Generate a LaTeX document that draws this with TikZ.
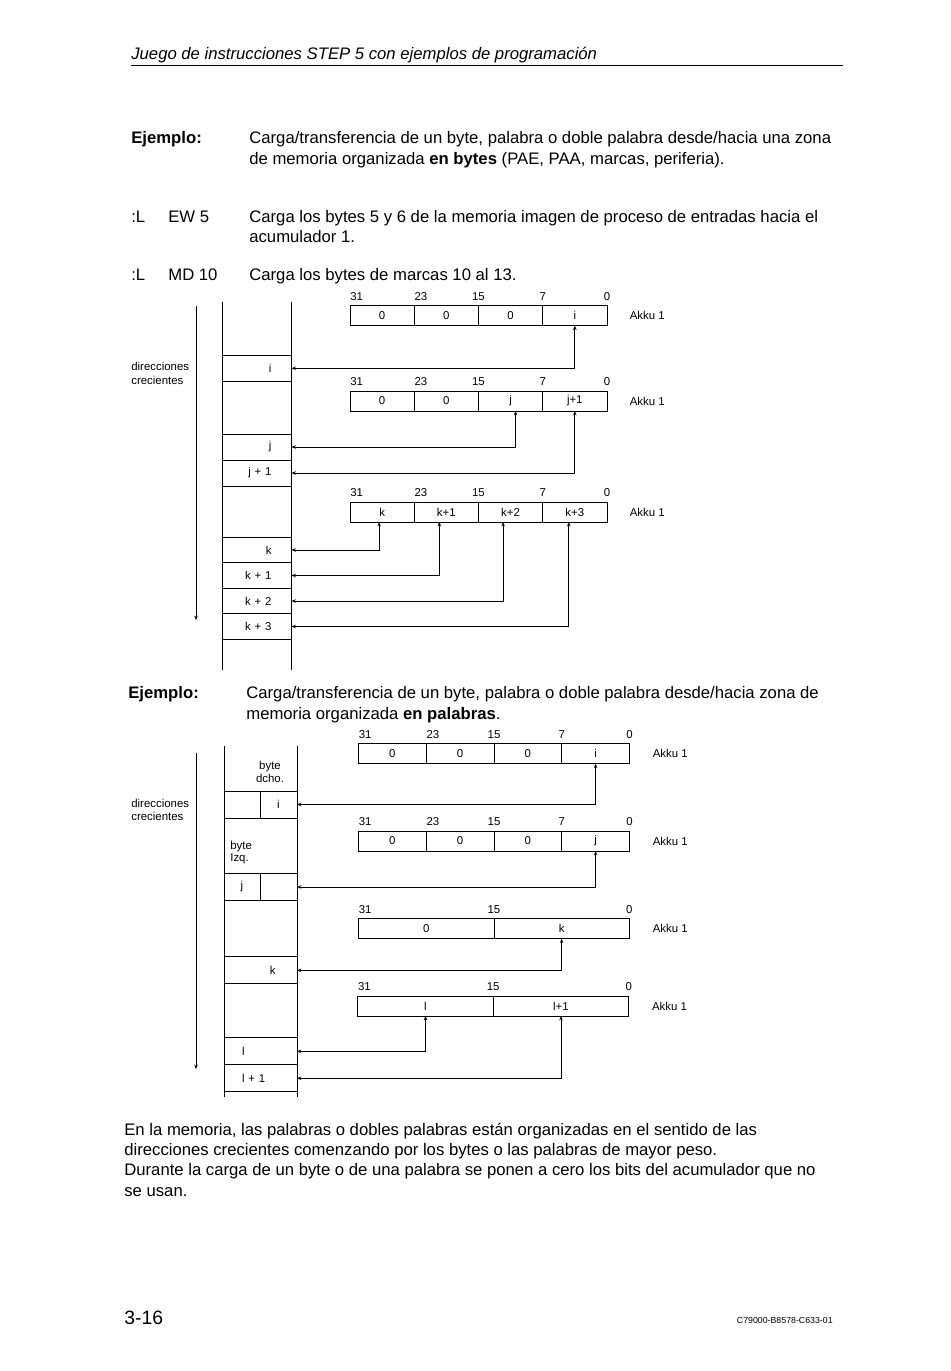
\documentclass[tikz,border=0pt]{standalone}
\usepackage{fontspec}
\setmainfont{Liberation Sans}
\usetikzlibrary{arrows.meta, positioning}

\newcommand{\diagfont}{\fontsize{6.5}{7}\selectfont}
\newcommand{\bodyfont}{\fontsize{9.5}{11.9}\selectfont}

\begin{document}
\begin{tikzpicture}[
  x=0.02cm, y=-0.02cm,
  txt/.style={anchor=base west, inner sep=0, font=\bodyfont, align=left},
  small/.style={anchor=base west, inner sep=0, font=\fontsize{6.5}{7.4}\selectfont, align=left},
  memt/.style={draw, line width=0.5pt, minimum height=0.52cm, text width=0.59cm,
    inner xsep=0.4cm, inner ysep=0pt, outer sep=0pt, align=right, font=\diagfont},
  memb/.style={draw, line width=0.5pt, minimum height=0.54cm, text width=#1,
    inner xsep=0pt, inner ysep=0pt, outer sep=0pt, align=center, font=\diagfont},
  reg/.style={draw, line width=0.5pt, minimum width=#1, minimum height=0.4cm,
    inner sep=0pt, outer sep=0pt, font=\diagfont},
  bit/.style={font=\diagfont, inner sep=0pt, anchor=south, yshift=0.1cm},
  akku/.style={font=\diagfont, inner sep=0pt, anchor=west},
  link/.style={{Stealth[length=2.5pt,width=2pt]}-{Stealth[length=2.5pt,width=2pt]}, line width=0.5pt},
  dir/.style={-{Stealth[length=2.5pt,width=2pt]}, line width=0.5pt},
]
\useasboundingbox (0,0) rectangle (950,1371);

% Header
\node[txt, font=\bodyfont\itshape] (hdr) at (131,60) {Juego de instrucciones STEP 5 con ejemplos de programación};
\draw[line width=0.5pt] (131,65) -- (843,65);

% Text above first picture (multi-line nodes sit on their last baseline)
\node[txt, font=\bodyfont\bfseries] (ej1) at (131,143.3) {Ejemplo:};
\node[txt] (ej1t) at (249,164.3) {Carga/transferencia de un byte, palabra o doble palabra desde/hacia una zona\\
  de memoria organizada \textbf{en bytes} (PAE, PAA, marcas, periferia).};
\node[txt] (l1) at (131,223) {:L};
\node[txt] (op1) at (168,223) {EW 5};
\node[txt] (op1t) at (249,243) {Carga los bytes 5 y 6 de la memoria imagen de proceso de entradas hacia el\\
  acumulador 1.};
\node[txt] (l2) at (131,281) {:L};
\node[txt] (op2) at (168,281) {MD 10};
\node[txt] (op2t) at (249,281) {Carga los bytes de marcas 10 al 13.};

% Byte organised memory
\node[small] (dir1) at (131,384) {direcciones\\crecientes};
\coordinate (d1a) at (196,306);
\coordinate (d1b) at (196,620);
\draw[dir] (d1a) -- (d1b);
\draw[line width=0.5pt] (222,302) -- (222,670) (291.5,302) -- (291.5,670);

\node[memt] (mi) at (256.75,368.3) {i};
\node[memt] (mj) at (256.75,447) {j};
\node[memt, below=0pt of mj] (mj1) {j + 1};
\node[memt, minimum height=0.51cm] (mk) at (256.75,550) {k};
\node[memt, minimum height=0.51cm, below=0pt of mk] (mk1) {k + 1};
\node[memt, minimum height=0.51cm, below=0pt of mk1] (mk2) {k + 2};
\node[memt, minimum height=0.51cm, below=0pt of mk2] (mk3) {k + 3};

% Akku for byte load
\node[reg=1.285cm] (ba1) at (382.1,315.7) {0};
\node[reg=1.285cm, right=0pt of ba1] (ba2) {0};
\node[reg=1.285cm, right=0pt of ba2] (ba3) {0};
\node[reg=1.285cm, right=0pt of ba3] (ba4) {i};
\node[akku, right=0.45cm of ba4] (ka) {Akku 1};
\node[bit, anchor=south west] (ba31) at (ba1.north west) {31};
\node[bit, anchor=south west] (ba23) at (ba2.north west) {23};
\node[bit] (ba15) at (ba3.north west) {15};
\node[bit] (ba7) at (ba4.north west) {7};
\node[bit] (ba0) at (ba4.north east) {0};

% Akku for word load
\node[reg=1.285cm] (bb1) at (382.1,401) {0};
\node[reg=1.285cm, right=0pt of bb1] (bb2) {0};
\node[reg=1.285cm, right=0pt of bb2] (bb3) {j};
\node[reg=1.285cm, right=0pt of bb3] (bb4) {j+1};
\node[akku, right=0.45cm of bb4] (kb) {Akku 1};
\node[bit, anchor=south west] (bb31) at (bb1.north west) {31};
\node[bit, anchor=south west] (bb23) at (bb2.north west) {23};
\node[bit] (bb15) at (bb3.north west) {15};
\node[bit] (bb7) at (bb4.north west) {7};
\node[bit] (bb0) at (bb4.north east) {0};

% Akku for double word load
\node[reg=1.285cm] (bc1) at (382.1,512) {k};
\node[reg=1.285cm, right=0pt of bc1] (bc2) {k+1};
\node[reg=1.285cm, right=0pt of bc2] (bc3) {k+2};
\node[reg=1.285cm, right=0pt of bc3] (bc4) {k+3};
\node[akku, right=0.45cm of bc4] (kc) {Akku 1};
\node[bit, anchor=south west] (bc31) at (bc1.north west) {31};
\node[bit, anchor=south west] (bc23) at (bc2.north west) {23};
\node[bit] (bc15) at (bc3.north west) {15};
\node[bit] (bc7) at (bc4.north west) {7};
\node[bit] (bc0) at (bc4.north east) {0};

% Transfers
\draw[link] (ba4.south) |- (mi.east);
\draw[link] ([xshift=0.1cm]bb3.south) |- (mj.east);
\draw[link] (bb4.south) |- (mj1.east);
\draw[link] ([xshift=-0.06cm]bc1.south) |- (mk.east);
\draw[link] ([xshift=-0.14cm]bc2.south) |- (mk1.east);
\draw[link] ([xshift=-0.15cm]bc3.south) |- (mk2.east);
\draw[link] ([xshift=-0.12cm]bc4.south) |- (mk3.east);

% Text above second picture
\node[txt, font=\bodyfont\bfseries] (ej2) at (128,698) {Ejemplo:};
\node[txt] (ej2t) at (246,719) {Carga/transferencia de un byte, palabra o doble palabra desde/hacia zona de\\
  memoria organizada \textbf{en palabras}.};

% Word organised memory
\node[small] (dir2) at (131,820) {direcciones\\crecientes};
\coordinate (d2a) at (196,753);
\coordinate (d2b) at (196,1069);
\draw[dir] (d2a) -- (d2b);
\draw[line width=0.5pt] (224,746) -- (224,1097) (297,746) -- (297,1097);

\node[small, anchor=center, align=center, font=\fontsize{6.5}{5}\selectfont] (bdcho) at (270,772) {byte\\dcho.};
\node[small, font=\fontsize{6.5}{5}\selectfont] (bizq) at (230,861) {byte\\Izq.};
\node[memb=0.72cm] (ni0) at (242,804.5) {};
\node[memb=0.74cm, right=0pt of ni0] (ni) {i};
\node[memb=0.72cm] (nj) at (242,887) {j};
\node[memb=0.74cm, right=0pt of nj] (nj0) {};
\node[memt, minimum height=0.54cm, text width=0.60cm, inner xsep=0.43cm] (nk) at (260.5,970.3) {k};
\node[memt, minimum height=0.54cm, text width=0.74cm, inner xsep=0.36cm, align=left] (nl) at (260.5,1051.3) {l};
\node[memt, minimum height=0.54cm, text width=0.74cm, inner xsep=0.36cm, align=left, below=0pt of nl] (nl1) {l + 1};

% Akku, byte
\node[reg=1.355cm] (wa1) at (392.4,753.7) {0};
\node[reg=1.355cm, right=0pt of wa1] (wa2) {0};
\node[reg=1.355cm, right=0pt of wa2] (wa3) {0};
\node[reg=1.355cm, right=0pt of wa3] (wa4) {i};
\node[akku, right=0.46cm of wa4] (kd) {Akku 1};
\node[bit, anchor=south west] (wa31) at (wa1.north west) {31};
\node[bit, anchor=south west] (wa23) at (wa2.north west) {23};
\node[bit] (wa15) at (wa3.north west) {15};
\node[bit] (wa7) at (wa4.north west) {7};
\node[bit] (wa0) at (wa4.north east) {0};

\node[reg=1.355cm] (wb1) at (392.4,841) {0};
\node[reg=1.355cm, right=0pt of wb1] (wb2) {0};
\node[reg=1.355cm, right=0pt of wb2] (wb3) {0};
\node[reg=1.355cm, right=0pt of wb3] (wb4) {j};
\node[akku, right=0.46cm of wb4] (ke) {Akku 1};
\node[bit, anchor=south west] (wb31) at (wb1.north west) {31};
\node[bit, anchor=south west] (wb23) at (wb2.north west) {23};
\node[bit] (wb15) at (wb3.north west) {15};
\node[bit] (wb7) at (wb4.north west) {7};
\node[bit] (wb0) at (wb4.north east) {0};

% Akku, word
\node[reg=2.71cm] (wc1) at (426.2,928.7) {0};
\node[reg=2.71cm, right=0pt of wc1] (wc2) {k};
\node[akku, right=0.46cm of wc2] (kf) {Akku 1};
\node[bit, anchor=south west] (wc31) at (wc1.north west) {31};
\node[bit] (wc15) at (wc2.north west) {15};
\node[bit] (wc0) at (wc2.north east) {0};

\node[reg=2.71cm] (wd1) at (425.5,1006) {l};
\node[reg=2.71cm, right=0pt of wd1] (wd2) {l+1};
\node[akku, right=0.46cm of wd2] (kg) {Akku 1};
\node[bit, anchor=south west] (wd31) at (wd1.north west) {31};
\node[bit] (wd15) at (wd2.north west) {15};
\node[bit] (wd0) at (wd2.north east) {0};

% Transfers
\draw[link] (wa4.south) |- (ni.east);
\draw[link] (wb4.south) |- (nj0.east);
\draw[link] (wc2.south) |- (nk.east);
\draw[link] (wd1.south) |- (nl.east);
\draw[link] (wd2.south) |- (nl1.east);

% Closing text
\node[txt, font=\fontsize{9.5}{11.4}\selectfont] (fin) at (124,1196) {En la memoria, las palabras o dobles palabras están organizadas en el sentido de las\\
  direcciones crecientes comenzando por los bytes o las palabras de mayor peso.\\
  Durante la carga de un byte o de una palabra se ponen a cero los bits del acumulador que no\\
  se usan.};
\node[txt, font=\fontsize{11}{13}\selectfont] (pg) at (124,1324) {3-16};
\node[txt, anchor=base east, font=\fontsize{5}{6}\selectfont] (ref) at (833,1323) {C79000-B8578-C633-01};

\end{tikzpicture}
\end{document}
